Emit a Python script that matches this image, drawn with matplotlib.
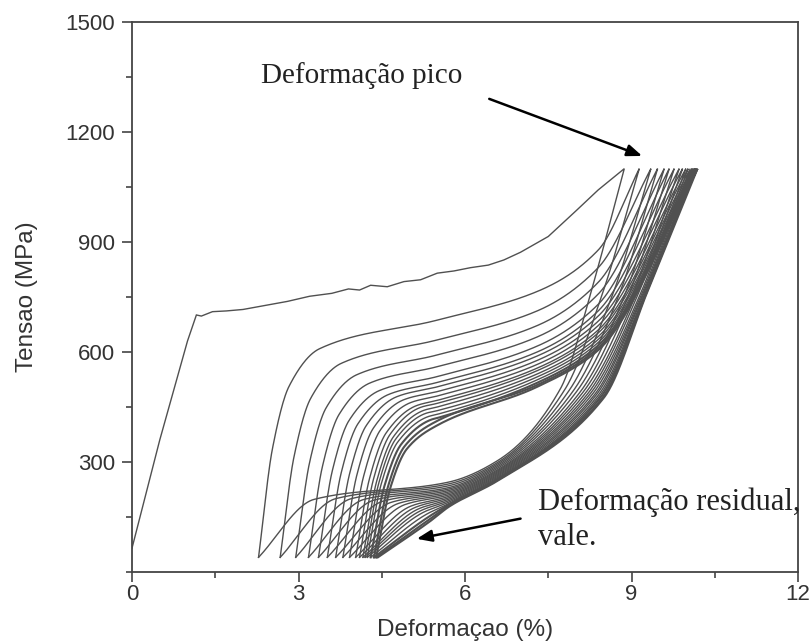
import numpy as np
import matplotlib
matplotlib.use("Agg")
import matplotlib.pyplot as plt
from matplotlib.ticker import MultipleLocator

# ---------------- data ----------------
# first (virgin) loading curve, strain (%) / stress (MPa)
FIRST_LOAD_X = [0.0, 0.5, 1.0, 1.16, 1.25, 1.45, 1.7, 2.0, 2.4, 2.8, 3.2, 3.6, 3.9,
                4.1, 4.3, 4.6, 4.9, 5.2, 5.5, 5.8, 6.1, 6.42, 6.7, 7.0, 7.5, 8.0,
                8.4, 8.87]
FIRST_LOAD_Y = [65, 360, 630, 701, 698, 710, 712, 716, 727, 738, 752, 760, 772,
                769, 782, 778, 792, 797, 815, 821, 830, 837, 851, 872, 915, 985,
                1042, 1100]

PEAK_STRESS = 1100
VALLEY_STRESS = 40

# peak strain of every cycle and residual (valley) strain at end of each unloading
PEAK_X = [8.87, 9.14, 9.35, 9.47, 9.59, 9.68, 9.77, 9.86, 9.92, 9.98, 10.02, 10.06,
          10.09, 10.11, 10.13, 10.15, 10.17, 10.19]
VALLEY_X = [2.28, 2.67, 2.95, 3.18, 3.36, 3.52, 3.67, 3.80, 3.92, 4.03, 4.10, 4.16,
            4.20, 4.24, 4.30, 4.36, 4.40, 4.43]

# reloading curves of cycles 2..18
LOAD_KNEE = [609, 569, 538, 515, 495, 484, 478, 470, 462, 454, 449, 441, 433, 424,
             416, 409, 400]
LOAD_55 = [687, 633, 592, 560, 533, 517, 505, 492, 480, 468, 460, 450, 440, 430,
           420, 410, 400]
LOAD_73 = [765, 712, 672, 641, 616, 600, 589, 577, 566, 556, 549, 540, 532, 524,
           516, 510, 505]
LOAD_84 = [878, 830, 790, 758, 730, 712, 698, 684, 672, 660, 652, 642, 634, 626,
           618, 611, 605]

# unloading curves of cycles 1..18
U_MID_X = [8.30, 8.50, 8.68, 8.79, 8.89, 8.96, 9.03, 9.09, 9.13, 9.17, 9.20, 9.22,
           9.24, 9.26, 9.27, 9.28, 9.29, 9.30]
U_MID_S = [780, 770, 765, 762, 760, 760, 760, 760, 762, 762, 764, 764, 766, 766,
           768, 768, 770, 770]
U_KNEE_X = [7.72, 7.80, 7.88, 7.95, 8.01, 8.07, 8.12, 8.17, 8.21, 8.25, 8.29, 8.33,
            8.36, 8.39, 8.42, 8.45, 8.48, 8.50]
U_KNEE_S = [500, 498, 496, 494, 492, 490, 489, 488, 486, 485, 484, 483, 482, 480,
            479, 478, 476, 475]
U_66 = [305, 300, 296, 292, 288, 284, 280, 277, 274, 271, 268, 265, 262, 259, 256,
        254, 252, 250]
U_57 = [245, 240, 235, 230, 226, 222, 218, 214, 210, 206, 202, 198, 194, 190, 186,
        183, 180, 177]
U_SHOULDER = [198, 200, 200, 198, 196, 193, 190, 187, 184, 180, 176, 172, 167, 162,
              157, 152, 148, 145]

X_TICKS = [0, 3, 6, 9, 12]
Y_TICKS = [300, 600, 900, 1200, 1500]

# ---------------- helpers ----------------
def pchip(xk, yk, x):
    xk = np.asarray(xk, float); yk = np.asarray(yk, float)
    h = np.diff(xk); d = np.diff(yk) / h
    n = len(xk)
    m = np.zeros(n)
    m[0] = d[0]; m[-1] = d[-1]
    for k in range(1, n - 1):
        if d[k - 1] * d[k] <= 0:
            m[k] = 0.0
        else:
            w1 = 2 * h[k] + h[k - 1]; w2 = h[k] + 2 * h[k - 1]
            m[k] = (w1 + w2) / (w1 / d[k - 1] + w2 / d[k])
    idx = np.clip(np.searchsorted(xk, x) - 1, 0, n - 2)
    t = (x - xk[idx]) / h[idx]
    h00 = 2 * t**3 - 3 * t**2 + 1; h10 = t**3 - 2 * t**2 + t
    h01 = -2 * t**3 + 3 * t**2; h11 = t**3 - t**2
    return (h00 * yk[idx] + h10 * h[idx] * m[idx] + h01 * yk[idx + 1]
            + h11 * h[idx] * m[idx + 1])

KNEE_DX = [0.0, 0.25, 0.55, 1.1]
KNEE_FRAC = [0.0, 0.52, 0.82, 1.0]

def reload_curve(j):
    v = VALLEY_X[j - 1]
    lk = LOAD_KNEE[j - 1]
    xs = [v + dx for dx in KNEE_DX]
    ys = [VALLEY_STRESS + f * (lk - VALLEY_STRESS) for f in KNEE_FRAC]
    if xs[-1] < 5.42:
        xs.append(5.5); ys.append(LOAD_55[j - 1])
    xs += [7.3, 8.4, PEAK_X[j]]
    ys += [LOAD_73[j - 1], LOAD_84[j - 1], PEAK_STRESS]
    x = np.linspace(xs[0], xs[-1], 500)
    return x, pchip(xs, ys, x)

def unload_curve(j):
    v = VALLEY_X[j]
    xs = [v, v + 1.0, 5.7, 6.6, U_KNEE_X[j], U_MID_X[j], PEAK_X[j]]
    ys = [VALLEY_STRESS, U_SHOULDER[j], U_57[j], U_66[j], U_KNEE_S[j], U_MID_S[j],
          PEAK_STRESS]
    x = np.linspace(xs[0], xs[-1], 500)
    return x[::-1], pchip(xs, ys, x)[::-1]

# ---------------- figure ----------------
plt.rcParams['font.family'] = ['Liberation Sans', 'DejaVu Sans']
fig = plt.figure(figsize=(8.11, 6.43), dpi=100)
ax = fig.add_axes([132 / 811, 71 / 643, 666 / 811, 550 / 643])

line_col = '#505050'
n = len(PEAK_X)
for j in range(n):
    if j == 0:
        lx, ly = np.array(FIRST_LOAD_X), np.array(FIRST_LOAD_Y)
    else:
        lx, ly = reload_curve(j)
    ux, uy = unload_curve(j)
    lw = 1.0 if j < n - 3 else 1.5
    ax.plot(np.concatenate([lx, ux]), np.concatenate([ly, uy]), color=line_col,
            lw=lw, solid_joinstyle='miter')

ax.set_xlim(0, 12)
ax.set_ylim(0, 1500)
ax.set_xticks(X_TICKS)
ax.set_xticklabels([str(t) for t in X_TICKS])
ax.set_yticks(Y_TICKS)
ax.set_yticklabels([str(t) for t in Y_TICKS])
ax.xaxis.set_minor_locator(MultipleLocator(1.5))
ax.yaxis.set_minor_locator(MultipleLocator(150))
ax.tick_params(which='major', direction='out', length=7, width=1.2, colors='#444444',
               labelsize=16, labelcolor='#333333')
ax.tick_params(axis='x', which='major', pad=2)
ax.tick_params(axis='y', which='major', pad=5)
ax.tick_params(which='minor', direction='out', length=4, width=1.2, colors='#444444')
for s in ax.spines.values():
    s.set_color('#444444'); s.set_linewidth(1.3)

ax.set_xlabel('Deformaçao (%)', fontsize=17.5, color='#333333', labelpad=10)
ax.set_ylabel('Tensao (MPa)', fontsize=17.5, color='#333333', labelpad=20)

serif = ['Liberation Serif', 'DejaVu Serif']
ax.text(2.33, 1355, 'Deformação pico', family=serif, fontsize=21, color='#222222',
        va='center', ha='left')
ax.annotate('', xy=(9.24, 1132), xytext=(6.39, 1293),
            arrowprops=dict(arrowstyle='-|>,head_length=0.9,head_width=0.35',
                            color='black', lw=1.8))
ax.text(7.32, 191, 'Deformação residual,', family=serif, fontsize=22, color='#222222',
        va='center', ha='left', clip_on=False)
ax.text(7.32, 95, 'vale.', family=serif, fontsize=22, color='#222222',
        va='center', ha='left', clip_on=False)
ax.annotate('', xy=(5.08, 89), xytext=(7.05, 147),
            arrowprops=dict(arrowstyle='-|>,head_length=0.9,head_width=0.35',
                            color='black', lw=1.8))

fig.savefig('out.png', dpi=100, facecolor='white')
